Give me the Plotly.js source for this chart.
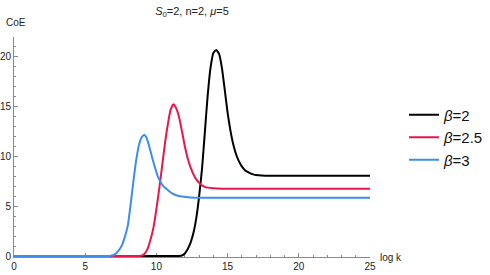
<!DOCTYPE html>
<html><head><meta charset="utf-8">
<script src="https://cdn.plot.ly/plotly-3.0.1.min.js"></script>
<style>html,body{margin:0;padding:0;background:#fff}#chart{width:490px;height:275px}</style>
</head><body><div id="chart"></div>
<script>
const seriesNames = ['<i>β</i>=2', '<i>β</i>=2.5', '<i>β</i>=3'];
const blackX = [0, 11.0, 11.6, 11.8, 12.0, 12.2, 12.4, 12.6, 12.8, 13.0, 13.2, 13.4, 13.6, 13.8, 14.0, 14.2, 14.4, 14.6, 14.8, 15.0, 15.2, 15.4, 15.6, 15.8, 16.0, 16.2, 16.4, 16.6, 16.8, 17.0, 17.4, 18.0, 25];
const blackY = [0, 0, 0.0, 0.05, 0.25, 0.7, 1.35, 2.3, 3.8, 6.0, 8.7, 12.4, 16.1, 18.9, 20.4, 20.7, 20.3, 18.9, 16.7, 14.4, 12.6, 11.2, 10.2, 9.5, 9.0, 8.65, 8.45, 8.3, 8.2, 8.13, 8.08, 8.05, 8.05];
const redX = [0, 8.2, 8.8, 9.0, 9.2, 9.4, 9.6, 9.8, 10.0, 10.2, 10.4, 10.6, 10.8, 11.0, 11.2, 11.4, 11.6, 11.8, 12.0, 12.2, 12.4, 12.6, 12.8, 13.0, 13.2, 13.4, 13.6, 14.0, 14.6, 16.0, 25];
const redY = [0, 0, 0.0, 0.05, 0.3, 0.8, 1.7, 2.9, 4.7, 6.8, 9.0, 11.3, 13.2, 14.7, 15.25, 14.8, 13.9, 12.5, 11.0, 9.8, 8.9, 8.2, 7.7, 7.35, 7.1, 6.95, 6.87, 6.8, 6.76, 6.75, 6.75];
const blueX = [0, 6.0, 6.6, 6.8, 7.0, 7.2, 7.4, 7.6, 7.8, 8.0, 8.2, 8.4, 8.6, 8.8, 9.0, 9.15, 9.3, 9.5, 9.7, 9.9, 10.1, 10.3, 10.5, 10.7, 10.9, 11.1, 11.4, 11.8, 12.4, 13.5, 25];
const blueY = [0, 0, 0.0, 0.03, 0.1, 0.3, 0.65, 1.15, 2.0, 3.1, 5.3, 7.7, 9.8, 11.3, 12.0, 12.15, 11.9, 11.0, 9.9, 8.9, 8.0, 7.4, 7.0, 6.75, 6.5, 6.3, 6.1, 5.97, 5.88, 5.85, 5.85];
const xTicks = [0, 5, 10, 15, 20, 25];
const yTicks = [0, 5, 10, 15, 20];
const colors = ['#000000', '#e8174a', '#3b8eea'];

const xs = [blackX, redX, blueX], ys = [blackY, redY, blueY];
const data = xs.map((x, i) => ({
  x: x, y: ys[i], type: 'scatter', mode: 'lines', name: seriesNames[i],
  line: {color: colors[i], width: 2, shape: 'spline', smoothing: 0.5}
}));

const axisCommon = {
  showgrid: false, zeroline: false, showline: true, linecolor: '#8a8a8a', linewidth: 1,
  ticks: 'inside', ticklen: 4, tickcolor: '#8a8a8a', tickwidth: 1,
  tickfont: {family: 'Liberation Sans, Arial, sans-serif', size: 10, color: '#222'},
  layer: 'below traces',
  minor: {dtick: 1, ticks: 'inside', ticklen: 2, tickcolor: '#8a8a8a', showgrid: false}
};

const layout = {
  width: 490, height: 275,
  margin: {l: 14, r: 120, t: 37, b: 18, autoexpand: false},
  paper_bgcolor: '#fff', plot_bgcolor: '#fff',
  font: {family: 'Liberation Sans, Arial, sans-serif', size: 10, color: '#222'},
  title: {text: '<i>S</i><sub>0</sub>=2, n=2, <i>μ</i>=5', font: {size: 11, color: '#222'},
          x: 192/490, xanchor: 'center', y: 1 - 11/275, yanchor: 'middle'},
  xaxis: Object.assign({}, axisCommon, {range: [0, 25], tickvals: xTicks, ticktext: xTicks.map(String)}),
  yaxis: Object.assign({}, axisCommon, {range: [-0.1, 22], tickvals: yTicks, ticktext: yTicks.map(String)}),
  showlegend: true,
  legend: {x: (404 - 14)/356, xanchor: 'left', y: 0.72, yanchor: 'top', bgcolor: 'rgba(0,0,0,0)',
           font: {family: 'Liberation Sans, Arial, sans-serif', size: 15, color: '#111'}},
  annotations: [
    {text: 'CoE', xref: 'paper', yref: 'paper', x: (4 - 14)/356, xanchor: 'left', y: 1 + 14/220, yanchor: 'middle', showarrow: false, font: {size: 10, color: '#222'}},
    {text: 'log k', xref: 'paper', yref: 'paper', x: (378 - 14)/356, xanchor: 'left', y: 0, yanchor: 'middle', showarrow: false, font: {size: 10, color: '#222'}}
  ]
};

Plotly.newPlot('chart', data, layout, {staticPlot: true, displayModeBar: false});
</script></body></html>
